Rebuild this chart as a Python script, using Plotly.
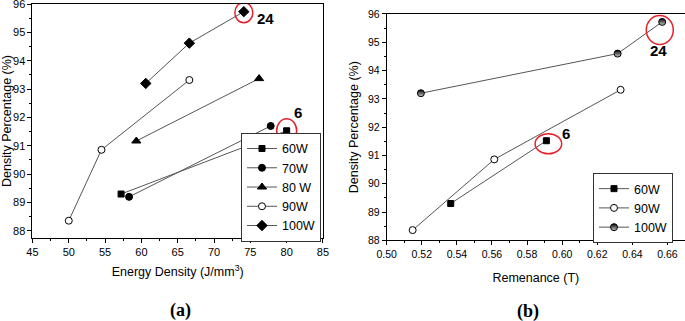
import plotly.graph_objects as go

# ---- Data: panel (a) Energy density vs density percentage
a_60_x = [57.2, 80.0];   a_60_y = [89.3, 91.53]
a_70_x = [58.3, 77.8];   a_70_y = [89.2, 91.7]
a_80_x = [59.3, 76.2];   a_80_y = [91.17, 93.37]
a_90_x = [50.0, 54.5, 66.6];  a_90_y = [88.36, 90.86, 93.32]
a_100_x = [60.6, 66.6, 74.1]; a_100_y = [93.2, 94.62, 95.73]

# ---- Data: panel (b) Remanence vs density percentage
b_60_x = [0.5365, 0.591];        b_60_y = [89.3, 91.52]
b_90_x = [0.5148, 0.5613, 0.6333]; b_90_y = [88.36, 90.86, 93.32]
b_100_x = [0.5195, 0.6316, 0.657]; b_100_y = [93.2, 94.6, 95.72]

LINE = dict(color="#555555", width=1)
FONT = "Liberation Sans, Arial, sans-serif"

fig = go.Figure()

def add(x, y, name, symbol, xa, ya, legend, fill="black", size=7, gradient=None):
    m = dict(symbol=symbol, size=size, color=fill, line=dict(color="black", width=1))
    if gradient:
        m["gradient"] = gradient
    fig.add_trace(go.Scatter(x=x, y=y, mode="lines+markers", name=name, hoverinfo="skip",
                             line=LINE, marker=m, xaxis=xa, yaxis=ya, legend=legend))

add(a_60_x, a_60_y, "60W", "square", "x", "y", "legend", size=6)
add(a_70_x, a_70_y, "70W", "circle", "x", "y", "legend")
add(a_80_x, a_80_y, "80 W", "triangle-up", "x", "y", "legend", size=8)
add(a_90_x, a_90_y, "90W", "circle", "x", "y", "legend", fill="white")
add(a_100_x, a_100_y, "100W", "diamond", "x", "y", "legend", size=8)

add(b_60_x, b_60_y, "60W", "square", "x2", "y2", "legend2", size=6)
add(b_90_x, b_90_y, "90W", "circle", "x2", "y2", "legend2", fill="white")
add(b_100_x, b_100_y, "100W", "circle", "x2", "y2", "legend2", fill="black",
    gradient=dict(type="vertical", color="#cccccc"))

axis_common = dict(showline=True, linecolor="black", linewidth=1, mirror=True,
                   ticks="outside", ticklen=4, tickcolor="black", showgrid=False,
                   zeroline=False, automargin=False, ticklabeloverflow="allow")

TF = dict(family=FONT, size=12.5, color="black")
TK = dict(family=FONT, size=11, color="black")
TK2 = dict(family=FONT, size=10.5, color="black")
fig.update_layout(
    width=685, height=321, margin=dict(l=0, r=0, t=0, b=0, autoexpand=False),
    paper_bgcolor="white", plot_bgcolor="white", hovermode=False,
    xaxis=dict(domain=[0.0474, 0.4715], range=[45, 85], dtick=5, anchor="y", tickfont=TK,
               minor=dict(ticks="outside", ticklen=2, dtick=2.5, tickcolor="black"),
               title=dict(text="Energy Density (J/mm<sup>3</sup>)", font=TF, standoff=10),
               **axis_common),
    yaxis=dict(domain=[0.2586, 0.9875], range=[87.75, 96], dtick=1, anchor="x", tickfont=TK,
               minor=dict(ticks="outside", ticklen=2, dtick=0.5, tickcolor="black"),
               title=dict(text="Density Percentage (%)", font=TF, standoff=6),
               **axis_common),
    xaxis2=dict(domain=[0.5645, 1.0], range=[0.5, 0.67], dtick=0.02, tickformat=".2f", anchor="y2",
                tickfont=TK2,
                minor=dict(ticks="outside", ticklen=2, dtick=0.01, tickcolor="black"),
                title=dict(text="Remenance (T)", font=TF, standoff=14),
                **axis_common),
    yaxis2=dict(domain=[0.2514, 0.9564], range=[88, 96], dtick=1, anchor="x2", tickfont=TK2,
                minor=dict(ticks="outside", ticklen=2, dtick=0.5, tickcolor="black"),
                title=dict(text="Density Percentage (%)", font=TF, standoff=6),
                **axis_common),
    legend=dict(x=0.4686, y=0.586, xanchor="right", yanchor="top", bordercolor="#333333", borderwidth=1,
                bgcolor="white", font=dict(family=FONT, size=12.5, color="black"), tracegroupgap=0,
                itemwidth=30),
    legend2=dict(x=0.9825, y=0.461, xanchor="right", yanchor="top", bordercolor="#333333", borderwidth=1,
                 bgcolor="white", font=dict(family=FONT, size=12.5, color="black"), tracegroupgap=0,
                 itemwidth=30),
    showlegend=True,
)

# red circles highlighting specimens 24 and 6
def ring(xref, yref, xc, yc, rx, ry, dx=0, dy=0):
    fig.add_shape(type="circle", xref=xref, yref=yref, xsizemode="pixel", ysizemode="pixel",
                  xanchor=xc, yanchor=yc, x0=dx - rx, x1=dx + rx, y0=dy - ry, y1=dy + ry,
                  line=dict(color="#e8202a", width=1.5))

ring("x", "y", a_100_x[2], a_100_y[2], 9, 10, dy=-1)
ring("x", "y", a_60_x[1], a_60_y[1], 10, 12)
ring("x2", "y2", b_100_x[2], b_100_y[2], 13.5, 14.5, dx=-2.4, dy=-8)
ring("x2", "y2", b_60_x[1], b_60_y[1], 13.3, 10, dx=2, dy=-3)

lab = dict(family=FONT, size=15, color="black")
def label(xref, yref, x, y, text, dx, dy):
    fig.add_annotation(xref=xref, yref=yref, x=x, y=y, text="<b>%s</b>" % text, showarrow=False,
                       xshift=dx, yshift=dy, font=lab, xanchor="center", yanchor="middle")

label("x", "y", a_100_x[2], a_100_y[2], "24", 22, -7)
label("x", "y", a_60_x[1], a_60_y[1], "6", 11, 18)
label("x2", "y2", b_100_x[2], b_100_y[2], "24", -4, -29)
label("x2", "y2", b_60_x[1], b_60_y[1], "6", 20, 7)

panel = dict(family="Liberation Serif, Times New Roman, serif", size=18, color="black")
fig.add_annotation(xref="paper", yref="paper", x=180 / 685, y=1 - 310.5 / 321, text="<b>(a)</b>",
                   showarrow=False, font=panel, xanchor="center", yanchor="middle")
fig.add_annotation(xref="paper", yref="paper", x=528 / 685, y=1 - 311 / 321, text="<b>(b)</b>",
                   showarrow=False, font=panel, xanchor="center", yanchor="middle")

fig.write_html("out.html", config={"displayModeBar": False, "staticPlot": True},
               post_script="document.body.style.margin='0';document.body.style.overflow='hidden';")
